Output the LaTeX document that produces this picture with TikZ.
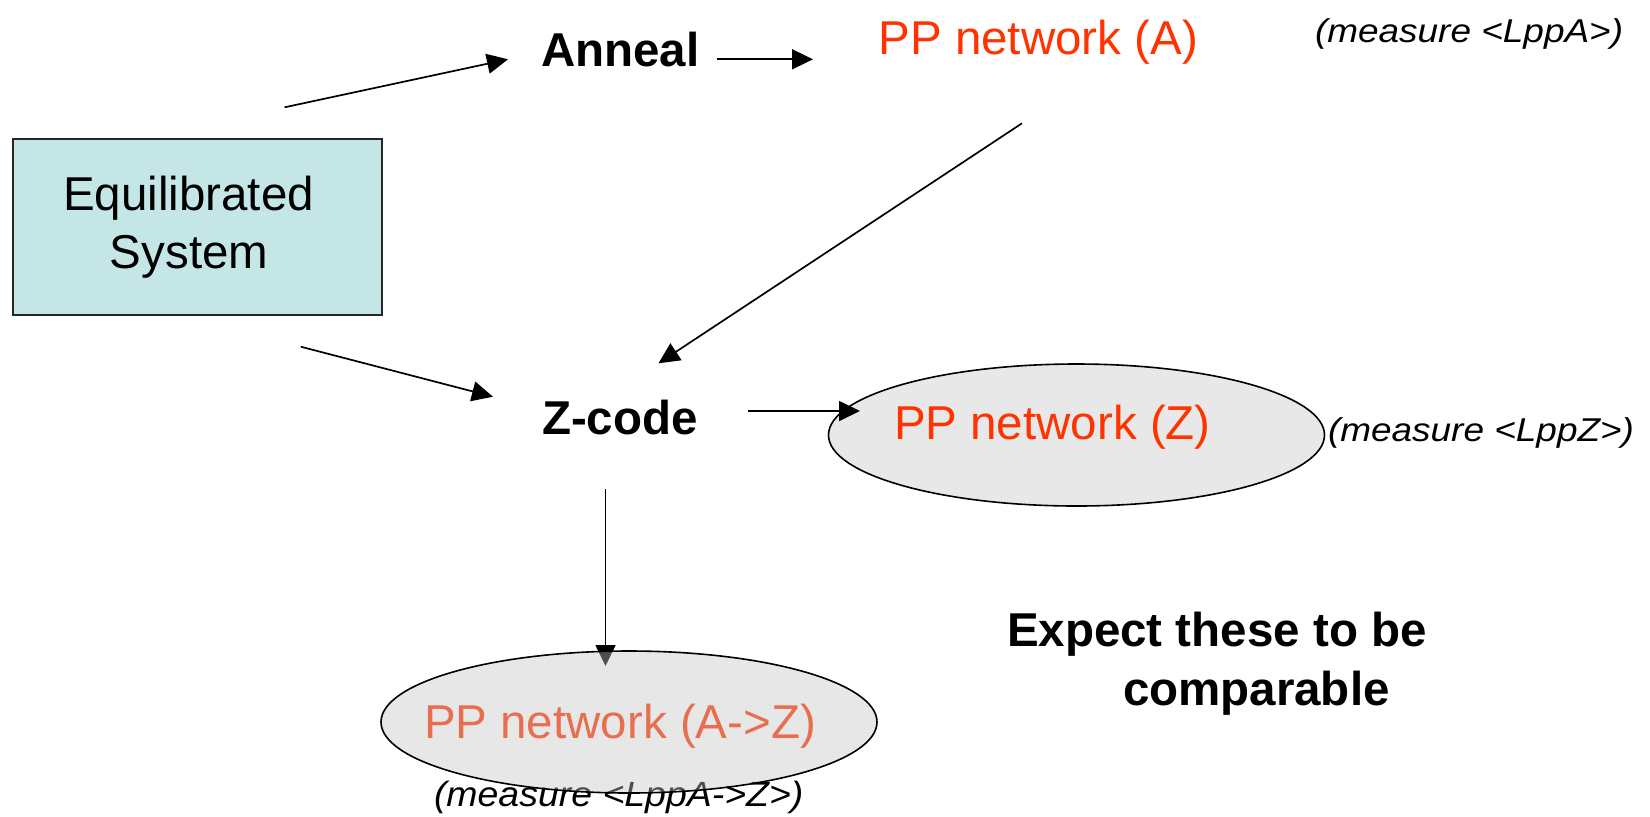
\documentclass[tikz,border=0pt]{standalone}
\usepackage{fontspec}
\usepackage{graphicx}
\setmainfont{Liberation Sans}
\usetikzlibrary{arrows.meta,shapes.geometric}
\definecolor{boxfill}{RGB}{196,230,231}
\definecolor{ppred}{RGB}{255,51,0}
\definecolor{ellfill}{RGB}{232,232,232}
\definecolor{ellfillT}{RGB}{198,198,198}
\begin{document}
\begin{tikzpicture}[x=0.5pt,y=-0.5pt,
  txt/.style={inner sep=0pt, outer sep=0pt, anchor=base west},
  big/.style={font=\fontsize{23.75}{28.8}\selectfont},
  bigb/.style={font=\fontsize{23.75}{28.8}\selectfont\bfseries},
  meas/.style={font=\fontsize{16.5}{20}\selectfont\itshape},
  measb/.style={font=\fontsize{17.5}{21}\selectfont\itshape},
  conn/.style={line width=0.85pt, -{Triangle[length=10.5pt,width=10pt]}},
  ellbox/.style={draw=black, line width=0.8pt, ellipse, inner sep=0pt,
    minimum width=248pt, minimum height=71pt}]
\fill[white] (0,0) rectangle (1650,816);
\useasboundingbox (0,0) rectangle (1650,816);

% system box
\node[draw=black!85, fill=boxfill, line width=0.9pt, inner sep=0pt, outer sep=0pt,
  minimum width=184.3pt, minimum height=88.3pt] (sys) at (197.3,227) {};
\node[inner sep=0pt, anchor=base, big] (sys1) at (188.5,210.7) {Equilibrated};
\node[inner sep=0pt, anchor=base, big] (sys2) at (189,268.3) {System};

% top row
\node[txt,bigb] (anneal) at (541,66.7) {Anneal};
\node[txt,big,text=ppred] (ppa) at (878.6,54.3) {PP network (A)};
\node[txt,meas] (ma) at (1315,42.7) {\scalebox{1.12}[1]{(measure <LppA>)}};

% middle row
\node[txt,bigb] (zcode) at (542,434) {Z-code};
\node[ellbox, fill=ellfill] (ellz) at (1076.5,435) {};
\node[txt,big,text=ppred] (ppz) at (894,439) {PP network (Z)};
\node[txt,meas] (mz) at (1328,441) {\scalebox{1.12}[1]{(measure <LppZ>)}};

% note
\node[txt,bigb] (exp1) at (1007,646.7) {Expect these to be};
\node[txt,bigb] (exp2) at (1123,705) {comparable};

% bottom
\node[txt,big,text=ppred] (ppaz) at (424,738.3) {PP network (A->Z)};
\node[txt,measb] (maz) at (434,806) {\scalebox{1.07}[1]{(measure <LppA->Z>)}};

% connectors
\coordinate (c1s) at (284.6,107.3); \coordinate (c1e) at (508,59.3);
\coordinate (c2s) at (716.5,59.3);  \coordinate (c2e) at (813,59.3);
\coordinate (c3s) at (1022,123.3);  \coordinate (c3e) at (658.5,363.3);
\coordinate (c4s) at (300.8,346.7); \coordinate (c4e) at (493,396.7);
\coordinate (c5s) at (748,411);     \coordinate (c5e) at (860,411);
\coordinate (c6s) at (605.5,489);   \coordinate (c6e) at (605.5,666);
\draw[conn] (c1s) -- (c1e);
\draw[conn] (c2s) -- (c2e);
\draw[conn] (c3s) -- (c3e);
\draw[conn] (c4s) -- (c4e);
\draw[conn] (c5s) -- (c5e);
\draw[conn] (c6s) -- (c6e);

% translucent ellipse over A->Z text
\node[ellbox, fill=ellfillT, fill opacity=0.404, text opacity=1] (ellaz) at (629,722) {};
\end{tikzpicture}
\end{document}
